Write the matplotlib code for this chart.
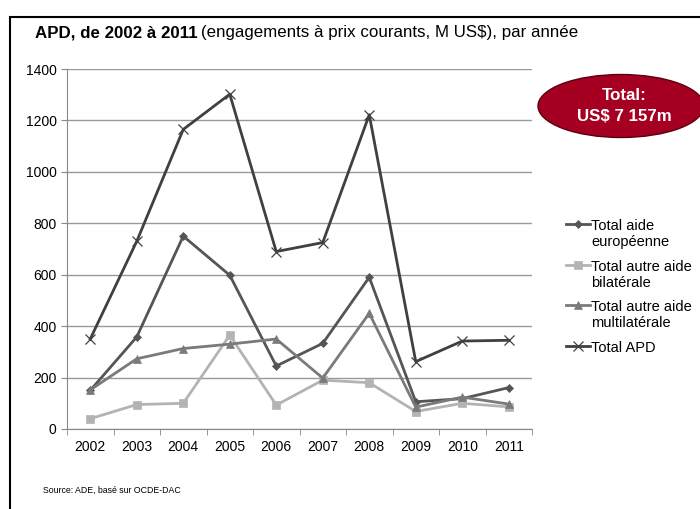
import matplotlib.pyplot as plt
from matplotlib.patches import Ellipse, Rectangle

years = [2002, 2003, 2004, 2005, 2006, 2007, 2008, 2009, 2010, 2011]
aide_europeenne = [150, 358, 750, 598, 245, 333, 590, 106, 118, 161]
autre_bilaterale = [40, 95, 100, 365, 93, 190, 180, 68, 100, 86]
autre_multilaterale = [152, 273, 313, 330, 350, 198, 450, 85, 124, 97]
total_apd = [350, 730, 1165, 1302, 690, 725, 1222, 262, 342, 345]

series = [
    ("Total aide\neuropéenne", aide_europeenne, "#555555", "D", 4.5),
    ("Total autre aide\nbilatérale", autre_bilaterale, "#b3b3b3", "s", 6),
    ("Total autre aide\nmultilatérale", autre_multilaterale, "#7a7a7a", "^", 6),
    ("Total APD", total_apd, "#404040", "x", 6.5),
]

plt.rcParams["font.family"] = ["Liberation Sans", "DejaVu Sans"]

fig = plt.figure(figsize=(7.0, 5.09), dpi=100)
fig.patches.append(Rectangle((10 / 700, -0.1), 1.2, 1 - 17 / 509 + 0.1,
                             transform=fig.transFigure, fill=False,
                             edgecolor="black", linewidth=1.5))

ax = fig.add_axes([67 / 700, 1 - 429 / 509, (532 - 67) / 700, (429 - 69) / 509])

x = list(range(len(years)))
for label, values, color, marker, ms in series:
    ax.plot(x, values, color=color, linewidth=2.0, marker=marker, markersize=ms,
            markeredgewidth=0.9 if marker == "x" else 0.5, label=label, zorder=3)

ax.set_xlim(-0.5, len(years) - 0.5)
ax.set_ylim(0, 1400)
ax.set_yticks(range(0, 1401, 200))
ax.set_xticks(x)
ax.set_xticklabels([str(y) for y in years])
ax.set_xticks([i - 0.5 for i in range(len(years) + 1)], minor=True)
ax.tick_params(axis="x", which="major", length=0, pad=8, labelsize=10)
ax.tick_params(axis="x", which="minor", length=4, color="#888888")
ax.tick_params(axis="y", length=4, color="#888888", labelsize=10)
ax.grid(axis="y", color="#999999", linewidth=1)
ax.set_axisbelow(True)
for side in ["top", "right"]:
    ax.spines[side].set_visible(False)
for side in ["left", "bottom"]:
    ax.spines[side].set_color("#888888")

leg = ax.legend(loc="upper left", bbox_to_anchor=(559 / 700, 1 - 212 / 509),
                bbox_transform=fig.transFigure, frameon=False, borderpad=0,
                fontsize=10.5, handlelength=1.6, handletextpad=0.1, labelspacing=0.7)
# align markers with the first line of each label
for col in leg._legend_handle_box.get_children():
    for row in col.get_children():
        row.align = "top"

title_bold = fig.text(35 / 700, 1 - 33 / 509, "APD, de 2002 à 2011", fontsize=12.2,
                      fontweight="bold", va="center", ha="left")
fig.canvas.draw()
bb = title_bold.get_window_extent()
fig.text((bb.x1 + 3) / 700, 1 - 33 / 509,
         "(engagements à prix courants, M US$), par année",
         fontsize=12.2, va="center", ha="left")
fig.text(43 / 700, 1 - 490 / 509, "Source: ADE, basé sur OCDE-DAC", fontsize=6.3,
         va="center", ha="left")

ell = Ellipse((621 / 700, 1 - 106 / 509), 166 / 700, 63 / 509,
              transform=fig.transFigure, facecolor="#a50021",
              edgecolor="#5a0010", linewidth=1)
fig.patches.append(ell)
fig.text(624 / 700, 1 - 106 / 509, "Total:\nUS$ 7 157m", color="white",
         fontsize=12.2, fontweight="bold", ha="center", va="center",
         linespacing=1.5)

fig.savefig("out.png", dpi=100)
